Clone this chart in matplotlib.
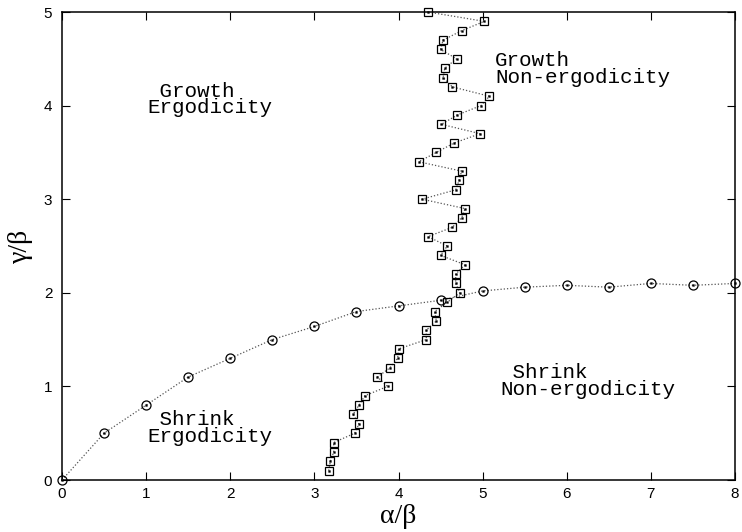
import matplotlib
matplotlib.use("Agg")
import matplotlib.pyplot as plt

# Circle series (horizontal boundary)
circ_x = [0, 0.5, 1, 1.5, 2, 2.5, 3, 3.5, 4, 4.5, 5, 5.5, 6, 6.5, 7, 7.5, 8]
circ_y = [0, 0.5, 0.8, 1.1, 1.3, 1.5, 1.64, 1.8, 1.86, 1.92, 2.02, 2.06, 2.08, 2.06, 2.1, 2.08, 2.1]

# Square series (vertical boundary)
sq_y = [0.1, 0.2, 0.3, 0.4, 0.5, 0.6, 0.7, 0.8, 0.9, 1.0,
        1.1, 1.2, 1.3, 1.4, 1.5, 1.6, 1.7, 1.8, 1.9, 2.0,
        2.1, 2.2, 2.3, 2.4, 2.5, 2.6, 2.7, 2.8, 2.9, 3.0,
        3.1, 3.2, 3.3, 3.4, 3.5, 3.6, 3.7, 3.8, 3.9, 4.0,
        4.1, 4.2, 4.3, 4.4, 4.5, 4.6, 4.7, 4.8, 4.9, 5.0]
sq_x = [3.17, 3.19, 3.23, 3.23, 3.48, 3.53, 3.46, 3.53, 3.60, 3.87,
        3.75, 3.90, 3.99, 4.00, 4.33, 4.33, 4.45, 4.43, 4.58, 4.73,
        4.68, 4.68, 4.79, 4.50, 4.58, 4.35, 4.64, 4.75, 4.79, 4.28,
        4.68, 4.72, 4.75, 4.24, 4.45, 4.66, 4.97, 4.51, 4.70, 4.98,
        5.08, 4.64, 4.53, 4.55, 4.69, 4.50, 4.53, 4.75, 5.02, 4.35]

xticks = [0, 1, 2, 3, 4, 5, 6, 7, 8]
yticks = [0, 1, 2, 3, 4, 5]

region_labels = [' Growth\nErgodicity', 'Growth\nNon-ergodicity',
                 ' Shrink\nNon-ergodicity', ' Shrink\nErgodicity']

fig = plt.figure(figsize=(7.42, 5.32), dpi=100)
ax = fig.add_axes([62/742, 52/532, (735-62)/742, (480-12)/532])

line_style = dict(color='#555555', linestyle=(0, (1, 1.6)), linewidth=0.9)

ax.plot(circ_x, circ_y, marker='o', markersize=6.5, markerfacecolor='none',
        markeredgecolor='black', markeredgewidth=0.9, clip_on=False, zorder=3, **line_style)
ax.plot(circ_x, circ_y, linestyle='none', marker='s', markersize=1.3,
        markerfacecolor='black', markeredgecolor='black', markeredgewidth=0.3,
        clip_on=False, zorder=4)

ax.plot(sq_x, sq_y, marker='s', markersize=6.0, markerfacecolor='none',
        markeredgecolor='black', markeredgewidth=0.9, clip_on=False, zorder=3, **line_style)
ax.plot(sq_x, sq_y, linestyle='none', marker='s', markersize=1.3,
        markerfacecolor='black', markeredgecolor='black', markeredgewidth=0.3,
        clip_on=False, zorder=4)

ax.set_xlim(0, 8)
ax.set_ylim(0, 5)
ax.set_xticks(xticks)
ax.set_yticks(yticks)
ax.set_xticklabels([str(t) for t in xticks], family='Liberation Sans', fontsize=11)
ax.set_yticklabels([str(t) for t in yticks], family='Liberation Sans', fontsize=11)
ax.tick_params(direction='in', length=6, width=0.8, top=True, right=True,
               pad=5)
ax.tick_params(axis='y', pad=7)
for s in ax.spines.values():
    s.set_linewidth(1.1)

ax.set_xlabel('α/β', family='Liberation Serif', fontsize=20, labelpad=2)
ax.set_ylabel('γ/β', family='Liberation Serif', fontsize=20, labelpad=8)

tkw = dict(family='Liberation Mono', fontsize=15, ha='left', va='baseline',
           linespacing=0.86)
ax.text(1.010, 3.916, region_labels[0], **tkw)
ax.text(5.147, 4.241, region_labels[1], **tkw)
ax.text(5.207, 0.908, region_labels[2], **tkw)
ax.text(1.010, 0.406, region_labels[3], **tkw)

fig.savefig('out.png', dpi=100)
